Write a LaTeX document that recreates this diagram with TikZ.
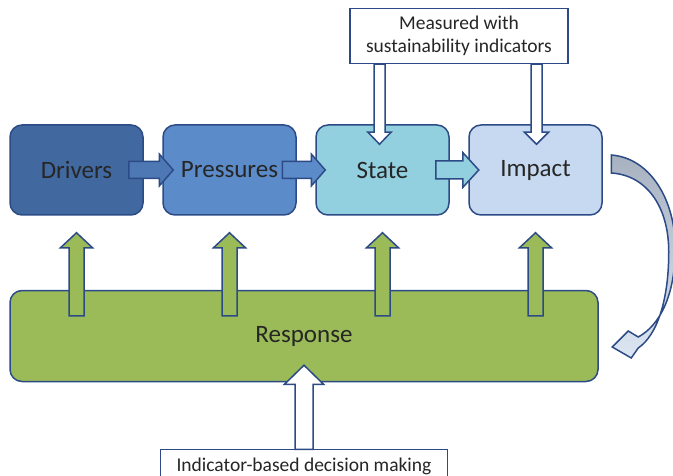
\documentclass[tikz,border=0pt]{standalone}
\usepackage{fontspec}
\setmainfont{Carlito}
\usetikzlibrary{calc, positioning}

\definecolor{edgeblue}{HTML}{2C4B86}
\definecolor{drvblue}{HTML}{4169A0}
\definecolor{drvarrow}{HTML}{4D78B4}
\definecolor{prsblue}{HTML}{5B8BC8}
\definecolor{stcyan}{HTML}{92CFDF}
\definecolor{impblue}{HTML}{C6D9F0}
\definecolor{respgreen}{HTML}{9BBB59}
\definecolor{cycgray}{HTML}{A7B1C0}
\definecolor{cycblue}{HTML}{DCE6F2}

\tikzset{
	blockarrow/.style n args={3}{to path={
		let \p1=(\tikztostart), \p2=(\tikztotarget),
			\n1={atan2(\y2-\y1,\x2-\x1)}, \n2={veclen(\x2-\x1,\y2-\y1)-#3}
		in ($(\p1)+(\n1+90:#1)$) -- ($(\p1)+(\n1:\n2)+(\n1+90:#1)$)
			-- ($(\p1)+(\n1:\n2)+(\n1+90:#2)$) -- (\p2)
			-- ($(\p1)+(\n1:\n2)+(\n1-90:#2)$) -- ($(\p1)+(\n1:\n2)+(\n1-90:#1)$)
			-- ($(\p1)+(\n1-90:#1)$) -- cycle}}
}

\begin{document}
\begin{tikzpicture}[x = 1pt, y = 1pt, node distance = 18.5pt,
	box/.style = {draw=edgeblue, line width=1.5pt, rounded corners=12pt, minimum width=133pt, minimum height=90pt, inner sep=0pt, text=black!85, font=\fontsize{25}{30}\selectfont},
	note/.style = {draw=edgeblue, line width=1.2pt, fill=white, inner sep=0pt, align=center, text=black!85, font=\fontsize{19.5}{23}\selectfont},
	flowarrow/.style = {draw=edgeblue, line width=1.5pt}]

\useasboundingbox (0,0) rectangle (673,475);

\node[box, fill=drvblue]				(drivers)	at (76.5,305)			{Drivers};
\node[box, fill=prsblue]				(pressures)	[right=of drivers]		{Pressures};
\node[box, fill=stcyan]					(state)		[right=of pressures]	{State};
\node[box, fill=impblue]				(impact)	[right=of state]		{Impact};
\node[box, fill=respgreen, minimum width=588pt, minimum height=91pt]	(response)	[below=74pt of drivers.south west, anchor=north west]	{Response};

\coordinate (mid) at ($(state.north)!0.5!(impact.north)$);
\node[note, minimum width=218pt, minimum height=55pt]	(measured)	[above=60pt of mid]		{Measured with\\sustainability indicators};
\node[note, minimum width=287pt, minimum height=33pt]	(decision)	[below=67pt of response]	{Indicator-based decision making};

\draw[flowarrow, fill=drvarrow]	([xshift=-15pt]drivers.east)	to[blockarrow={8.5}{16}{14}]	([xshift=11pt]pressures.west);
\draw[flowarrow, fill=prsblue]	([xshift=-14.5pt]pressures.east)	to[blockarrow={8.5}{16}{14}]	([xshift=10pt]state.west);
\draw[flowarrow, fill=stcyan]	([xshift=-14pt]state.east)		to[blockarrow={9}{17.5}{16}]	([xshift=10.5pt]impact.west);

\coordinate (s1) at ([xshift=-3pt, yshift=-20pt]state.north);
\coordinate (s2) at ([xshift=1pt, yshift=-20pt]impact.north);
\draw[flowarrow, fill=white]	(measured.south -| s1)	to[blockarrow={5.5}{11.5}{12}]	(s1);
\draw[flowarrow, fill=white]	(measured.south -| s2)	to[blockarrow={5.5}{12}{12}]	(s2);

\foreach \bx in {drivers, pressures, state, impact}
	\draw[flowarrow, fill=respgreen]	($(response.north -| \bx.south)+(0,-26)$)	to[blockarrow={7.5}{16}{15}]	($(\bx.south)+(0,-17)$);

\draw[flowarrow, fill=white]	(decision.north)	to[blockarrow={9}{19.5}{19}]	($(response.south -| decision.north)+(0,17)$);

\begin{scope}[shift={(impact.east)}]
\draw[flowarrow, top color=cycgray, bottom color=cycblue] (8.5,15) .. controls (47.5,12) and (73,-30) .. (72.5,-80) .. controls (72,-125) and (57.5,-155) .. (35.5,-167) -- (25.5,-161) -- (9.5,-177) -- (28.5,-188) -- (35.5,-178) .. controls (54.5,-165) and (66,-130) .. (66,-82) .. controls (66,-35) and (42.5,-5) .. (8.5,-3) -- cycle;
\end{scope}

\end{tikzpicture}
\end{document}
